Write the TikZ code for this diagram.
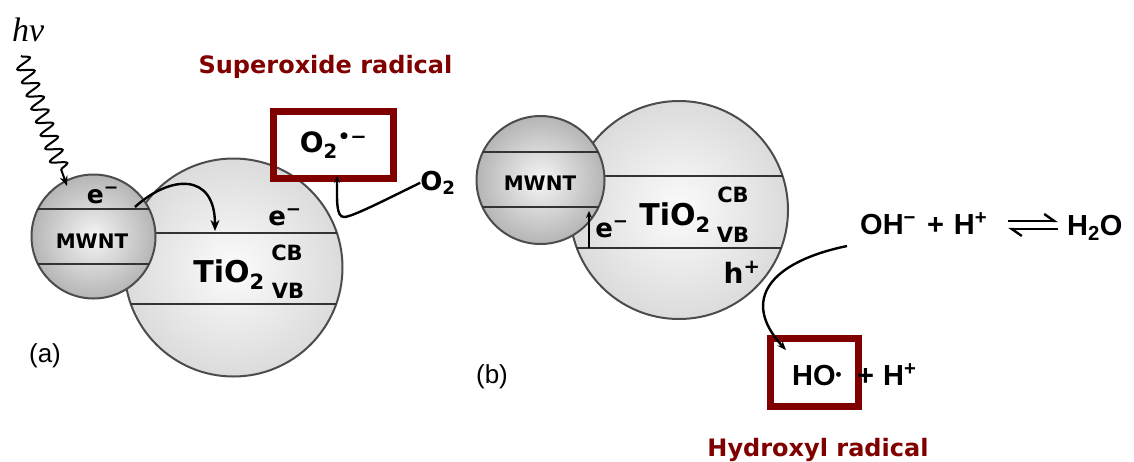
\documentclass[tikz,border=0pt]{standalone}
\usepackage{fontspec}
\setmainfont{DejaVu Sans}
\newfontfamily\arialfont{Liberation Sans}
\newfontfamily\timesfont{Liberation Serif}
\usetikzlibrary{arrows.meta,decorations.pathmorphing}
\definecolor{radred}{RGB}{128,0,0}
\newcommand{\fsz}[1]{\fontsize{#1}{#1}\selectfont}
\newcommand{\raddot}{\raisebox{5pt}{\fsz{17}•}}

\begin{document}
\begin{tikzpicture}[
        x=1pt, y=-1pt,
        >=Stealth,
        tube/.style={draw=black!70, line width=2pt, shade, inner color=gray!8, outer color=gray!58},
        oxide/.style={draw=black!70, line width=2pt, shade, inner color=gray!3, outer color=gray!28},
        band/.style={draw=black!80, line width=2.4pt},
        flow/.style={line width=2.4pt, -{Stealth[length=11pt,width=9pt]}},
        tiny/.style={line width=2.4pt, -{Stealth[length=7pt,width=6pt]}},
        harp/.style={line width=2.4pt, -{Straight Barb[left,length=10pt,width=14pt]}},
        tag/.style={font=\bfseries\fsz{#1}, inner sep=0pt, anchor=base},
        tag/.default=26,
        eq/.style={font=\arialfont\bfseries\fsz{29}, inner sep=0pt, anchor=base west},
        panel/.style={font=\arialfont\fsz{26}, inner sep=0pt, anchor=base},
        radical/.style={draw=radred, line width=7pt, inner sep=0pt},
        note/.style={font=\bfseries\fsz{24}, text=radred, inner sep=0pt, anchor=base}
    ]
\useasboundingbox (0,0) rectangle (1134,461);

\coordinate (tiA) at (233.5,267.5);
\coordinate (mwA) at (93.5,236.5);
\coordinate (tiB) at (679,210);
\coordinate (mwB) at (540.5,180);

% (a) electron goes MWNT -> TiO2 CB -> O2
\path[oxide] (tiA) circle[radius=109pt];
\begin{scope}
    \clip (tiA) circle[radius=109pt];
    \draw[band] (110,233) -- (350,233) (110,304) -- (350,304);
\end{scope}
\path[tube] (mwA) circle[radius=62pt];
\begin{scope}
    \clip (mwA) circle[radius=62pt];
    \draw[band] (25,209) -- (160,209) (25,264) -- (160,264);
\end{scope}

\node[font=\timesfont\itshape\fsz{34}, inner sep=0pt, anchor=base west] (hv) at (12,41) {hv};
\node[tag=25] (eA1) at (103,203) {e\textsuperscript{−}};
\node[tag=20] (mwntA) at (92,248) {MWNT};
\node[tag=26] (eA2) at (285,225) {e\textsuperscript{−}};
\node[tag=21] (cbA) at (287,260) {CB};
\node[tag=21] (vbA) at (288,298) {VB};
\node[tag=30] (tio2A) at (229,282) {TiO\textsubscript{2}};
\node[panel] (lblA) at (45,362) {(a)};
\node[tag=26] (o2) at (438,190) {O\textsubscript{2}};
\node[radical, minimum width=120pt, minimum height=67pt, font=\bfseries\fsz{28}] (supBox) at (333.5,145) {O\textsubscript{2}\textsuperscript{•−}};
\node[note] (supName) at (325.5,73) {Superoxide radical};

\coordinate (hvS) at (21,56);
\coordinate (hvE) at (67,186);
\draw[line width=2pt, -{Stealth[length=10pt,width=8pt]}, decorate,
    decoration={snake, amplitude=8pt, segment length=14pt, post length=14pt}] (hvS) -- (hvE);

\coordinate (jumpS) at (135,207);
\coordinate (jumpE) at (215,231);
\draw[flow] (jumpS) .. controls (170,175) and (215,172) .. (jumpE);

\coordinate (supTip) at (337,176);
\draw[tiny] (o2.west) .. controls (385,200) and (352,217) .. (344,217) .. controls (336,217) and (337,200) .. (supTip);

% (b) hole in TiO2 VB oxidises OH-
\path[oxide] (tiB) circle[radius=109pt];
\begin{scope}
    \clip (tiB) circle[radius=109pt];
    \draw[band] (560,176) -- (800,176) (560,248) -- (800,248);
\end{scope}
\path[tube] (mwB) circle[radius=64pt];
\begin{scope}
    \clip (mwB) circle[radius=64pt];
    \draw[band] (470,152) -- (610,152) (470,207) -- (610,207);
\end{scope}

\node[tag=20] (mwntB) at (540,190) {MWNT};
\node[tag=26] (eB) at (612,237) {e\textsuperscript{−}};
\node[tag=30] (tio2B) at (675,225) {TiO\textsubscript{2}};
\node[tag=21] (cbB) at (733,202) {CB};
\node[tag=21] (vbB) at (733,242) {VB};
\node[tag=28] (hB) at (742,283) {h\textsuperscript{+}};
\node[panel] (lblB) at (492,383) {(b)};

\coordinate (holeS) at (589,248);
\coordinate (holeE) at (589,211);
\draw[tiny, line width=1.8pt] (holeS) -- (holeE);

\node[eq] (ohSide) at (860,234) {OH\textsuperscript{−}\hspace{11pt}+\hspace{10pt}H\textsuperscript{+}};
\node[eq] (h2o) at (1067,235) {H\textsubscript{2}O};
\coordinate (fwdS) at (1008,221);
\coordinate (fwdE) at (1058,221);
\coordinate (bckS) at (1058,229);
\coordinate (bckE) at (1008,229);
\draw[harp] (fwdS) -- (fwdE);
\draw[harp] (bckS) -- (bckE);

\node[radical, minimum width=88pt, minimum height=68pt] (hoBox) at (814.5,372.5) {};
\node[eq] (hoRad) at (792,385) {HO\raddot};
\node[eq] (hoRest) at (857,385) {+\hspace{9pt}H\textsuperscript{+}};
\node[note] (hoName) at (818,456) {Hydroxyl radical};

\coordinate (ohS) at (847,246);
\coordinate (ohE) at (786,350);
\draw[line width=2.4pt, -{Stealth[length=9pt,width=7pt]}] (ohS) .. controls (770,262) and (740,300) .. (ohE);

\end{tikzpicture}
\end{document}
